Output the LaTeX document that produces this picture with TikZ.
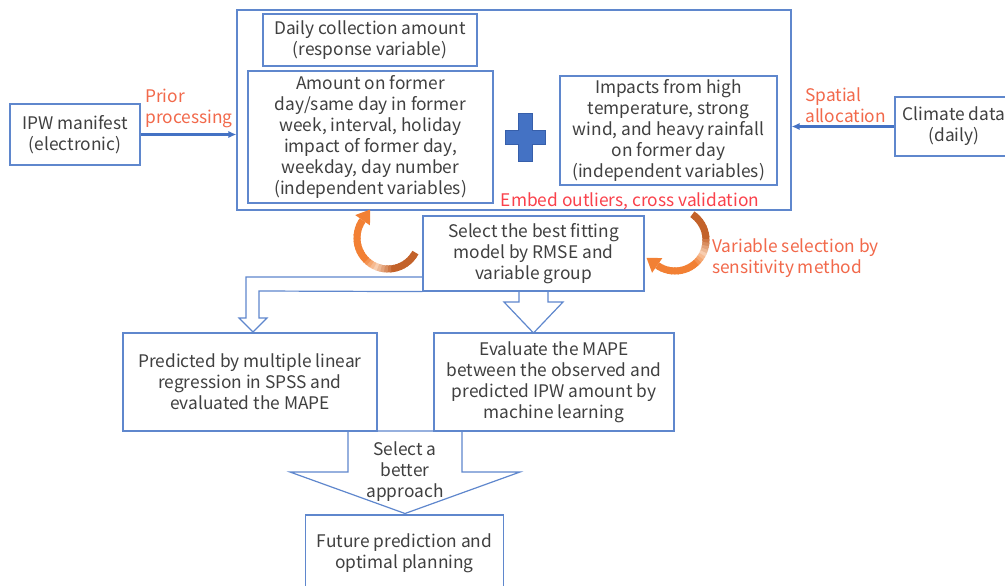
\documentclass[tikz,border=0pt]{standalone}
\usepackage{fontspec}
\setmainfont{Noto Sans CJK JP}
\usetikzlibrary{arrows.meta}
\definecolor{boxc}{RGB}{95,135,205}
\definecolor{linec}{RGB}{68,114,196}
\definecolor{plusb}{RGB}{55,95,170}
\definecolor{txt}{RGB}{64,64,64}
\definecolor{orgtxt}{RGB}{242,105,75}
\definecolor{redtxt}{RGB}{250,65,75}
\definecolor{brownA}{RGB}{195,98,42}
\definecolor{orangeA}{RGB}{242,128,52}
\definecolor{paleA}{RGB}{248,205,175}
\newcommand\myfs{\fontsize{13}{15.75}\selectfont}
\newcommand\gradarc[5]{%
  \foreach \i in {0,...,29}{%
    \pgfmathsetmacro\aa{#4+(#5-#4)*\i/30}%
    \pgfmathsetmacro\ab{#4+(#5-#4)*min(\i+1.5,30)/30}%
    \ifnum\i<9
      \colorlet{segc}{brownA}%
    \else\ifnum\i<14
      \pgfmathtruncatemacro\pp{100-100*(\i-8)/5}%
      \colorlet{segc}{brownA!\pp!paleA}%
    \else\ifnum\i<18
      \pgfmathtruncatemacro\pp{100*(\i-13)/4}%
      \colorlet{segc}{orangeA!\pp!paleA}%
    \else
      \colorlet{segc}{orangeA}%
    \fi\fi\fi
    \draw[line width=5.25pt, segc, line cap=butt]
      ({#1+#3*cos(\aa)},{#2-#3*sin(\aa)}) --
      ({#1+#3*cos((\aa+\ab)/2)},{#2-#3*sin((\aa+\ab)/2)}) --
      ({#1+#3*cos(\ab)},{#2-#3*sin(\ab)});
  }%
  \pgfmathsetmacro\px{#1+#3*cos(#5)}%
  \pgfmathsetmacro\py{#2-#3*sin(#5)}%
  \fill[orangeA] ({\px+13*sin(#5)},{\py+13*cos(#5)}) --
    ({\px+9*cos(#5)},{\py-9*sin(#5)}) --
    ({\px-9*cos(#5)},{\py+9*sin(#5)}) -- cycle;
}
\tikzset{
  box/.style={draw=boxc, line width=0.9pt, text=txt, align=center, inner sep=0pt, font=\myfs},
  lbl/.style={inner sep=0pt, font=\myfs, align=left},
  blk/.style={draw=boxc, line width=0.9pt, line join=miter},
  flow/.style={draw=linec, line width=1.6pt, -{Latex[length=6pt,width=5.5pt]}}
}
\begin{document}
\begin{tikzpicture}[x=0.75pt, y=-0.75pt]
\useasboundingbox (0,0) rectangle (1005,585);
\clip (0,0) rectangle (1005,585);
\fill[white] (0,0) rectangle (1005,585);

% container and inner boxes
\node[box, minimum width=415.5pt, minimum height=150pt] (cont) at (514,110) {};
\node[box, minimum width=160.5pt, minimum height=39pt] (daily) at (370,40)
  {Daily collection amount\\(response variable)};
\node[box, minimum width=183.75pt, minimum height=99pt] (amount) at (370.5,137)
  {Amount on former\\day/same day in former\\week, interval, holiday\\impact of former day,\\weekday, day number\\(independent variables)};
\node[box, minimum width=162.75pt, minimum height=81.75pt] (impact) at (668.5,130.5)
  {Impacts from high\\temperature, strong\\wind, and heavy rainfall\\on former day\\(independent variables)};

% plus sign
\filldraw[fill=linec, draw=plusb, line width=0.4pt]
  (518.5,113) -- (532.5,113) -- (532.5,130) -- (545.5,130) -- (545.5,144) --
  (532.5,144) -- (532.5,161) -- (518.5,161) -- (518.5,144) -- (505.5,144) --
  (505.5,130) -- (518.5,130) -- cycle;

% side inputs
\node[box, minimum width=97.5pt, minimum height=45.75pt] (ipw) at (75,134.5)
  {IPW manifest\\(electronic)};
\node[box, minimum width=88.5pt, minimum height=44.25pt] (clim) at (954,126.5)
  {Climate data\\(daily)};
\draw[flow] (ipw.east) -- (ipw.east -| cont.west);
\draw[flow] (clim.west) -- (clim.west -| cont.east);
\node[lbl, text=orgtxt, anchor=west] (prior) at (145,108.5) {Prior\\processing};
\node[lbl, text=orgtxt, anchor=west] (spatial) at (805,105.5) {Spatial\\allocation};

\node[lbl, text=redtxt] (embed) at (630,201) {Embed outliers, cross validation};

% selection box
\node[box, minimum width=165.75pt, minimum height=56.25pt] (sel) at (533.5,253.5)
  {Select the best fitting\\model by RMSE and\\variable group};
\node[lbl, text=orgtxt, anchor=west] (varsel) at (712,258.5)
  {Variable selection by\\sensitivity method};

% curved arrows
\gradarc{388}{238}{31}{-28}{-215}
\gradarc{675}{240}{31}{56}{-125}

% block arrows from selection box
\draw[blk] (sel.west |- 0,277) -- (246,277) -- (246,318) -- (239,318) -- (253,332) --
  (267,318) -- (259,318) -- (259,291) -- (sel.south west);
\draw[blk] (519,291) -- (519,302) -- (504,302) -- (533.5,333) -- (563,302) -- (548,302) -- (548,291);

% method boxes
\node[box, minimum width=190.5pt, minimum height=73.5pt] (mlr) at (250,382)
  {Predicted by multiple linear\\regression in SPSS and\\evaluated the MAPE};
\node[box, minimum width=180pt, minimum height=73.5pt] (ml) at (554,382)
  {Evaluate the MAPE\\between the observed and\\predicted IPW amount by\\machine learning};

% bottom block arrow
\draw[blk] (348,431) -- (348,472) -- (290,472) -- (405,513.5) -- (520,472) --
  (462,472) -- (462,431) -- cycle;
\node[lbl, align=center, text=txt] (better) at (405,472) {Select a\\better\\approach};

% final box
\node[box, minimum width=148.5pt, minimum height=57pt] (future) at (404.5,553)
  {Future prediction and\\optimal planning};
\end{tikzpicture}
\end{document}
